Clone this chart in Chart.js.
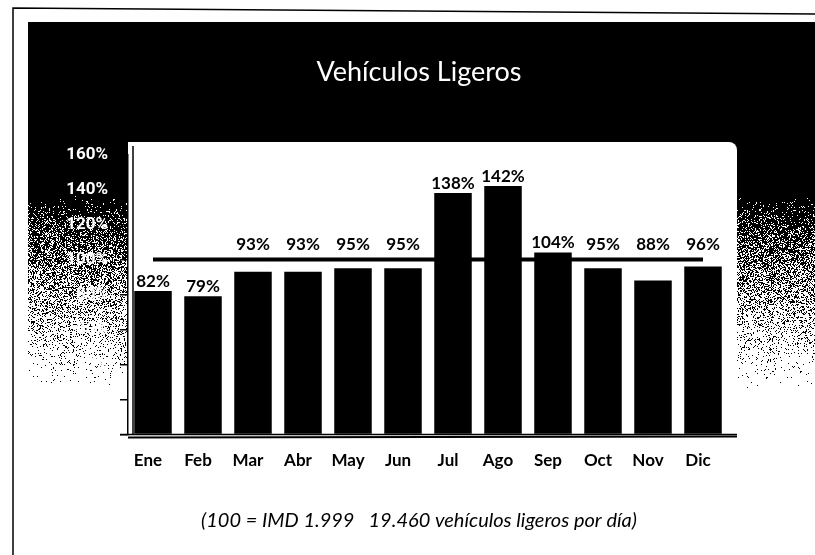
<!DOCTYPE html>
<html>
<head>
<meta charset="utf-8">
<title>Vehículos Ligeros</title>
<script src="https://cdn.jsdelivr.net/npm/chart.js@4/dist/chart.umd.min.js"></script>
<style>
  body { margin: 0; background: #fff; }
  #grafico { display: block; }
</style>
</head>
<body>
<canvas id="grafico" width="815" height="555"></canvas>
<script>
// meses y porcentajes sobre la IMD de 1.999
var meses = ['Ene', 'Feb', 'Mar', 'Abr', 'May', 'Jun', 'Jul', 'Ago', 'Sep', 'Oct', 'Nov', 'Dic'];
var porcentajes = [82, 79, 93, 93, 95, 95, 138, 142, 104, 95, 88, 96];
var referencia = [100, 100, 100, 100, 100, 100, 100, 100, 100, 100, 100, 100];
var ejeMin = 0;
var ejeMax = 160;
var ejePaso = 20;

var titulo = 'Vehículos Ligeros';
var nota = '(100 = IMD 1.999   19.460 vehículos ligeros por día)';

// fondo: marco, panel negro que se desvanece con grano y panel blanco del grafico
var fondo = {
	id: 'fondo',
	beforeDraw: function(chart) {
		var ctx = chart.ctx;
		var area = chart.chartArea;
		var w = chart.width, h = chart.height;

		ctx.save();
		ctx.fillStyle = '#fff';
		ctx.fillRect(0, 0, w, h);

		// panel negro con degradado punteado hacia abajo
		var x0 = 28, y0 = 22, x1 = w, y1 = 420;
		var img = ctx.getImageData(x0, y0, x1 - x0, y1 - y0);
		var d = img.data;
		var semilla = 12345;
		function azar() {
			semilla = (semilla * 16807) % 2147483647;
			return semilla / 2147483647;
		}
		for (var y = y0; y < y1; y++) {
			var t = (y - 195) / 195;
			if (t < 0) t = 0;
			if (t > 1) t = 1;
			var p = Math.pow(1 - t, 1.4);
			for (var x = x0; x < x1; x++) {
				if (azar() < p) {
					var i = ((y - y0) * (x1 - x0) + (x - x0)) * 4;
					d[i] = 0; d[i + 1] = 0; d[i + 2] = 0; d[i + 3] = 255;
				}
			}
		}
		ctx.putImageData(img, x0, y0);

		// marco exterior
		ctx.strokeStyle = '#000';
		ctx.lineWidth = 1.5;
		ctx.beginPath();
		ctx.moveTo(13, h);
		ctx.lineTo(13, 8);
		ctx.lineTo(w, 14);
		ctx.stroke();

		// panel blanco del grafico
		var l = area.left, t2 = 142, r = 737, b = 456, rad = 8;
		ctx.fillStyle = '#fff';
		ctx.beginPath();
		ctx.moveTo(l, t2);
		ctx.lineTo(r - rad, t2);
		ctx.arcTo(r, t2, r, t2 + rad, rad);
		ctx.lineTo(r, b);
		ctx.lineTo(l, b);
		ctx.closePath();
		ctx.fill();

		// pared izquierda y suelo
		ctx.strokeStyle = '#000';
		ctx.lineWidth = 1.5;
		ctx.beginPath();
		ctx.moveTo(l + 5, t2 + 4);
		ctx.lineTo(l + 5, area.bottom);
		ctx.stroke();
		ctx.beginPath();
		ctx.moveTo(l - 8, area.bottom);
		ctx.lineTo(r, area.bottom);
		ctx.stroke();
		ctx.lineWidth = 2;
		ctx.beginPath();
		ctx.moveTo(l, area.bottom + 3);
		ctx.lineTo(r, area.bottom + 2);
		ctx.stroke();
		ctx.restore();
	}
};

// porcentaje encima de cada barra; si la barra queda justo bajo la linea del 100%, la etiqueta sube por encima
var etiquetas = {
	id: 'etiquetas',
	afterDatasetsDraw: function(chart) {
		var ctx = chart.ctx;
		var meta = chart.getDatasetMeta(1);
		var yLinea = chart.scales.y.getPixelForValue(100);
		ctx.save();
		ctx.fillStyle = '#000';
		ctx.font = 'bold 17px Lato';
		ctx.textAlign = 'center';
		ctx.textBaseline = 'bottom';
		meta.data.forEach(function(barra, i) {
			var yTexto = barra.y - 1;
			if (barra.y > yLinea && barra.y - yLinea < 30) {
				yTexto = yLinea - 6;
			}
			ctx.fillText(porcentajes[i] + '%', barra.x, yTexto);
		});
		ctx.restore();
	}
};

new Chart(document.getElementById('grafico'), {
	type: 'bar',
	data: {
		labels: meses,
		datasets: [
			{
				type: 'line',
				data: referencia,
				borderColor: '#000',
				borderWidth: 4,
				pointRadius: 0,
				fill: false
			},
			{
				data: porcentajes,
				backgroundColor: '#000',
				borderWidth: 0,
				barPercentage: 0.75,
				categoryPercentage: 1
			}
		]
	},
	options: {
		responsive: false,
		animation: false,
		layout: {
			padding: { top: 0, left: 60, right: 37, bottom: 13 }
		},
		plugins: {
			legend: { display: false },
			tooltip: { enabled: false },
			title: {
				display: true,
				text: titulo,
				color: '#fff',
				font: { family: 'Lato', size: 27, weight: 'normal' },
				padding: { top: 56, bottom: 66 }
			},
			subtitle: {
				display: true,
				position: 'bottom',
				text: nota,
				color: '#000',
				font: { family: 'Lato', size: 20, style: 'italic', weight: 'normal' },
				padding: { top: 22, bottom: 9 }
			}
		},
		scales: {
			x: {
				grid: { display: false, drawTicks: false },
				border: { display: false },
				ticks: {
					color: '#000',
					padding: 16,
					labelOffset: -5,
					font: { family: 'Lato', size: 17, weight: 'bold' }
				}
			},
			y: {
				min: ejeMin,
				max: ejeMax,
				afterFit: function(scale) { scale.width = 68; },
				grid: { drawOnChartArea: false, drawTicks: true, tickLength: 8, color: '#000', lineWidth: 1.5 },
				border: { display: true, color: '#000', width: 1.5 },
				ticks: {
					stepSize: ejePaso,
					color: '#fff',
					padding: 12,
					font: { family: "'Liberation Sans Narrow', Roboto", size: 17, weight: 'bold' },
					callback: function(v) { return v + '%'; }
				}
			},
			// eje vacio a la derecha, solo reserva el margen
			margen: {
				type: 'linear',
				position: 'right',
				afterFit: function(scale) { scale.width = 50; },
				grid: { display: false, drawTicks: false },
				border: { display: false },
				ticks: { display: false }
			}
		}
	},
	plugins: [fondo, etiquetas]
});
</script>
</body>
</html>
